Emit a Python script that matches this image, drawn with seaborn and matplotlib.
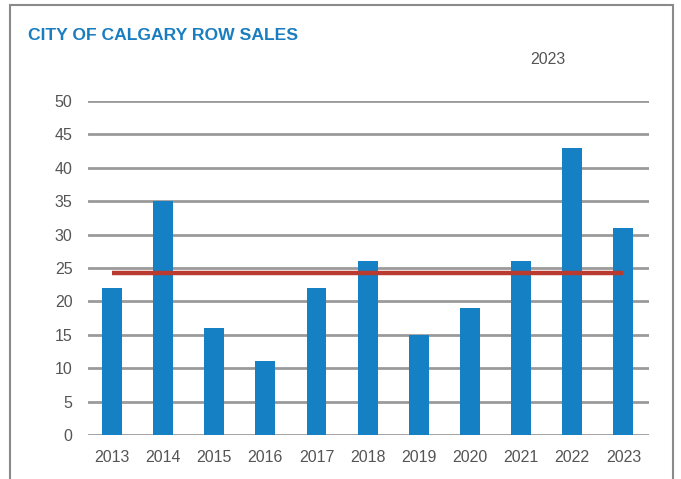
import matplotlib
matplotlib.use("Agg")
import matplotlib.pyplot as plt
import seaborn as sns
import pandas as pd
from matplotlib.patches import Rectangle

years = ["2013", "2014", "2015", "2016", "2017", "2018", "2019", "2020", "2021", "2022", "2023"]
sales = [22, 35, 16, 11, 22, 26, 15, 19, 26, 43, 31]
average = 24.2
yticks = [0, 5, 10, 15, 20, 25, 30, 35, 40, 45, 50]

sns.set_theme(style="white")
plt.rcParams['font.family'] = ['Liberation Sans', 'DejaVu Sans']

df = pd.DataFrame({"year": years, "sales": sales})

fig = plt.figure(figsize=(6.81, 4.79), dpi=100)
ax = fig.add_axes([0.129, 0.092, 0.824, 0.697])

for t in yticks:
    ax.axhline(t, color="#9a9a9a", lw=2.0, zorder=0)

sns.barplot(data=df, x="year", y="sales", color="#1580C4", saturation=1,
            width=0.39, linewidth=0, edgecolor="none", ax=ax, zorder=2)

ax.plot([years[0], years[-1]], [average, average], color="#B93A2E", lw=3.2,
        solid_capstyle="butt", zorder=3)

ax.set_xlim(-0.47, 10.5)
ax.set_ylim(0, 50)
ax.set_yticks(yticks)
ax.set_xlabel("")
ax.set_ylabel("")
for s in ax.spines.values():
    s.set_visible(False)
ax.tick_params(axis="both", length=0, labelsize=11.5, labelcolor="#555555")
ax.tick_params(axis="y", pad=11)
ax.tick_params(axis="x", pad=11)

fig.text(28/681, 1 - 36/479, "CITY OF CALGARY ROW SALES", color="#1A7DC0",
         fontsize=12.6, fontweight="bold", va="center", ha="left")
fig.text(548/681, 1 - 60/479, "2023", color="#555555", fontsize=11.5,
         va="center", ha="center")

fig.patches.append(Rectangle((10/681, -0.1), (673-10)/681, 1.1 - 5/479,
                             transform=fig.transFigure, fill=False,
                             edgecolor="#8a8a8a", lw=1.5))

fig.savefig("out.png", dpi=100)
